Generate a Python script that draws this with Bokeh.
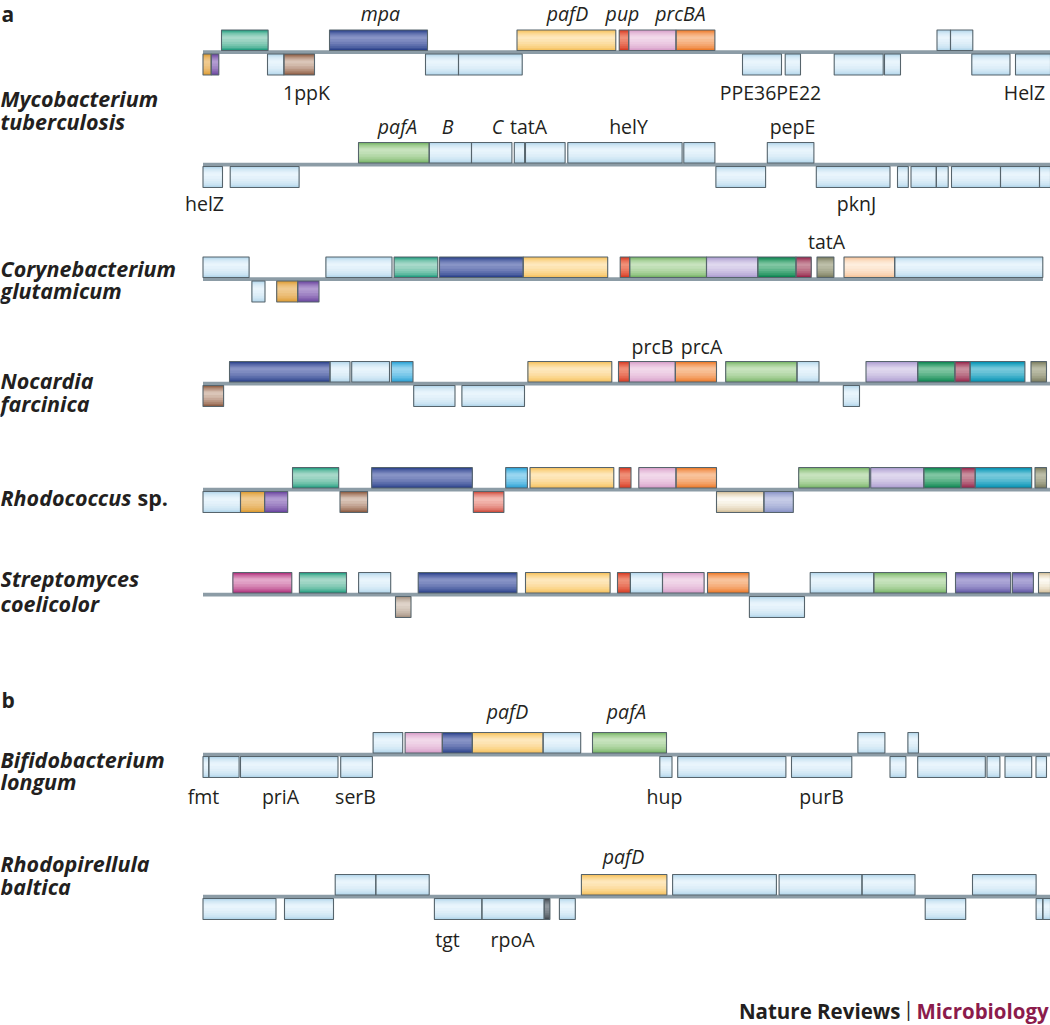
from bokeh.plotting import figure
from bokeh.models import ColumnDataSource, Range1d
from bokeh.embed import file_html
from bokeh.resources import INLINE
from bokeh.core.properties import value

# ---------------- DATA ----------------
# gene maps: start / end along the map, strand (+1 top strand, -1 bottom strand), gene family

# Mycobacterium tuberculosis, segment 1
mtb1_start = [202.5, 210.7, 221.0, 267.0, 283.4, 329.0, 425.0, 458.0, 516.5, 618.7, 628.2, 675.5,
              742.0, 784.7, 833.7, 884.0, 936.5, 950.0, 971.3, 1015.0]
mtb1_end = [210.7, 218.3, 267.6, 283.4, 314.0, 427.0, 458.0, 521.7, 615.3, 628.2, 675.5, 714.4,
            781.0, 800.0, 882.7, 900.0, 950.0, 972.3, 1009.5, 1050.0]
mtb1_strand = [-1, -1, 1, -1, -1, 1, -1, -1, 1, 1, 1, 1, -1, -1, -1, -1, 1, 1, -1, -1]
mtb1_family = ["amber", "purple", "teal", "hyp", "brown", "mpa", "hyp", "hyp", "pafD", "pup", "prcB", "prcA",
               "hyp", "hyp", "hyp", "hyp", "hyp", "hyp", "hyp", "hyp"]

# Mycobacterium tuberculosis, segment 2
mtb2_start = [202.5, 229.7, 358.0, 428.7, 471.0, 513.8, 525.0, 567.3, 683.3, 715.4, 766.8, 815.8,
              897.0, 910.5, 935.8, 951.0, 1000.0, 1039.0]
mtb2_end = [222.0, 298.6, 428.7, 471.0, 511.4, 524.1, 564.6, 681.6, 714.4, 765.1, 813.4, 889.5,
            907.8, 935.8, 947.7, 1000.0, 1039.0, 1050.0]
mtb2_strand = [-1, -1, 1, 1, 1, 1, 1, 1, 1, -1, 1, -1, -1, -1, -1, -1, -1, -1]
mtb2_family = ["hyp", "hyp", "pafA", "hyp", "hyp", "hyp", "hyp", "hyp", "hyp", "hyp", "hyp", "hyp",
               "hyp", "hyp", "hyp", "hyp", "hyp", "hyp"]

# Corynebacterium glutamicum
cglu_start = [202.5, 251.4, 276.2, 297.2, 325.4, 393.6, 439.0, 522.7, 619.7, 629.2, 706.0, 757.3,
              795.5, 816.5, 843.5, 894.2]
cglu_end = [248.6, 264.5, 297.2, 318.5, 391.5, 437.3, 522.7, 607.2, 629.2, 706.0, 757.3, 795.5,
            810.7, 833.4, 894.2, 1042.3]
cglu_strand = [1, -1, -1, -1, 1, 1, 1, 1, 1, 1, 1, 1, 1, 1, 1, 1]
cglu_family = ["hyp", "hyp", "amber", "purple", "hyp", "teal", "mpa", "pafD", "pup", "pafA", "lavender",
               "dkgreen", "maroon", "olive", "peach", "hyp"]

# Nocardia farcinica
nfar_start = [202.5, 229.0, 329.5, 351.2, 390.8, 413.2, 461.4, 527.4, 618.0, 628.9, 674.8, 725.2,
              796.5, 842.8, 865.5, 917.2, 954.4, 969.6, 1030.5]
nfar_end = [223.1, 329.5, 349.5, 389.0, 412.5, 454.5, 524.0, 611.3, 628.9, 674.8, 716.0, 796.5,
            818.5, 859.0, 917.2, 954.4, 969.6, 1024.4, 1046.0]
nfar_strand = [-1, 1, 1, 1, 1, -1, -1, 1, 1, 1, 1, 1, 1, -1, 1, 1, 1, 1, 1]
nfar_family = ["brown", "mpa", "hyp", "hyp", "cyan", "hyp", "hyp", "pafD", "pup", "prcB", "prcA", "pafA",
               "hyp", "hyp", "lavender", "dkgreen", "maroon", "tealcyan", "olive"]

# Rhodococcus sp.
rhod_start = [202.5, 240.0, 264.1, 292.0, 339.5, 371.2, 472.8, 505.2, 529.5, 618.7, 638.3, 675.5,
              716.0, 763.4, 798.2, 870.2, 923.3, 960.5, 974.7, 1034.5]
rhod_end = [240.0, 264.1, 287.2, 338.2, 367.1, 471.8, 503.4, 526.9, 613.3, 630.5, 675.5, 716.0,
            763.4, 792.8, 868.9, 923.3, 960.5, 974.7, 1031.2, 1046.0]
rhod_strand = [-1, -1, -1, 1, -1, 1, -1, 1, 1, 1, 1, 1, -1, -1, 1, 1, 1, 1, 1, 1]
rhod_family = ["hyp", "amber", "purple", "teal", "brown", "mpa", "salmon", "cyan", "pafD", "pup", "prcB",
               "prcA", "cream", "periwinkle", "pafA", "lavender", "dkgreen", "maroon", "tealcyan", "olive"]

# Streptomyces coelicolor
scoe_start = [232.4, 298.9, 358.1, 395.0, 417.7, 525.0, 617.0, 629.9, 662.0, 707.0, 748.9, 809.7,
              873.3, 955.0, 1011.9, 1038.0]
scoe_end = [291.3, 346.0, 390.2, 410.5, 516.5, 609.6, 629.9, 662.0, 703.6, 748.5, 804.0, 873.3,
            946.0, 1010.2, 1032.9, 1050.0]
scoe_strand = [1, 1, 1, -1, 1, 1, 1, 1, 1, 1, -1, 1, 1, 1, 1, 1]
scoe_family = ["magenta", "teal", "hyp", "taupe", "mpa", "pafD", "pup", "hyp", "prcB", "prcA", "hyp", "hyp",
               "pafA", "slate", "slate", "cream"]

# Bifidobacterium longum
blon_start = [202.5, 208.3, 240.0, 340.2, 372.6, 404.6, 441.8, 471.8, 542.6, 592.0, 659.3, 677.2,
              791.0, 857.4, 889.5, 907.4, 917.2, 986.5, 1004.5, 1035.5]
blon_end = [208.3, 238.6, 337.5, 371.9, 402.2, 441.8, 471.8, 542.6, 580.2, 666.0, 671.5, 785.4,
            851.3, 884.4, 905.4, 918.0, 984.8, 999.4, 1031.2, 1046.0]
blon_strand = [-1, -1, -1, -1, 1, 1, 1, 1, 1, 1, -1, -1, -1, 1, -1, 1, -1, -1, -1, -1]
blon_family = ["hyp", "hyp", "hyp", "hyp", "hyp", "prcB", "mpa", "pafD", "hyp", "pafA", "hyp", "hyp",
               "hyp", "hyp", "hyp", "hyp", "hyp", "hyp", "hyp", "hyp"]

# Rhodopirellula baltica
rbal_start = [202.5, 284.0, 334.7, 375.3, 433.9, 481.4, 543.7, 558.9, 580.9, 672.1, 778.6, 861.5,
              924.7, 972.0, 1035.6, 1042.3]
rbal_end = [275.5, 333.0, 375.3, 428.7, 481.4, 543.7, 549.4, 574.8, 666.4, 775.9, 861.5, 914.5,
            965.2, 1035.6, 1042.3, 1050.0]
rbal_strand = [-1, -1, 1, 1, -1, -1, -1, -1, 1, 1, 1, 1, -1, 1, -1, -1]
rbal_family = ["hyp", "hyp", "hyp", "hyp", "hyp", "hyp", "dkgrey", "hyp", "pafD", "hyp", "hyp", "hyp",
               "hyp", "hyp", "hyp", "hyp"]

# chromosome line extent per map
map_line_start = [202.5, 202.5, 202.5, 202.5, 202.5, 202.5, 202.5, 202.5]
map_line_end = [1050, 1050, 1042.5, 1050, 1050, 1050, 1050, 1050]

# gene name labels: text, x, map index, side, italic
label_text = ["mpa", "pafD", "pup", "prcBA", "1ppK", "PPE36PE22", "HelZ",
              "pafA", "B", "C", "tatA", "helY", "pepE", "helZ", "pknJ",
              "tatA", "prcB", "prcA",
              "pafD", "pafA", "fmt", "priA", "serB", "hup", "purB",
              "pafD", "tgt", "rpoA"]
label_x = [380, 567, 622, 680, 306, 770, 1024,
           397, 447, 497, 528, 628, 792, 204, 856,
           826, 652, 701,
           507, 626, 203, 280, 355, 664, 821,
           623, 447, 512]
label_map = [0, 0, 0, 0, 0, 0, 0,
             1, 1, 1, 1, 1, 1, 1, 1,
             2, 3, 3,
             6, 6, 6, 6, 6, 6, 6,
             7, 7, 7]
label_side = [1, 1, 1, 1, -1, -1, -1,
              1, 1, 1, 1, 1, 1, -1, -1,
              1, 1, 1,
              1, 1, -1, -1, -1, -1, -1,
              1, -1, -1]
label_italic = [1, 1, 1, 1, 0, 0, 0,
                1, 1, 1, 0, 0, 0, 0, 0,
                0, 0, 0,
                1, 1, 0, 0, 0, 0, 0,
                1, 0, 0]

# species names (two lines each)
species_line1 = ["Mycobacterium", "Corynebacterium", "Nocardia", "Rhodococcus", "Streptomyces",
                 "Bifidobacterium", "Rhodopirellula"]
species_line2 = ["tuberculosis", "glutamicum", "farcinica", "", "coelicolor", "longum", "baltica"]

maps = [
    (mtb1_start, mtb1_end, mtb1_strand, mtb1_family),
    (mtb2_start, mtb2_end, mtb2_strand, mtb2_family),
    (cglu_start, cglu_end, cglu_strand, cglu_family),
    (nfar_start, nfar_end, nfar_strand, nfar_family),
    (rhod_start, rhod_end, rhod_strand, rhod_family),
    (scoe_start, scoe_end, scoe_strand, scoe_family),
    (blon_start, blon_end, blon_strand, blon_family),
    (rbal_start, rbal_end, rbal_strand, rbal_family),
]

# ---------------- LAYOUT / STYLE ----------------
map_y = [51.5, 164.0, 278.5, 383.0, 489.0, 594.0, 754.0, 896.0]
label_baseline = {(0, 1): 13, (0, -1): 92, (1, 1): 125.5, (1, -1): 203, (2, 1): 241,
                  (3, 1): 346, (6, 1): 711, (6, -1): 796, (7, 1): 855.5, (7, -1): 939}
species_baselines = [(97.5, 120.5), (268, 290), (379.5, 403), (496.5, None), (577.5, 602.5),
                     (759, 781), (862.5, 885.5)]

palette = {
    "hyp": ("#b2d5ea", "#d2e8f5", "#e9f5fc"),
    "teal": ("#1e9a7d", "#6cc0a8", "#a8d9ca"),
    "mpa": ("#283f88", "#5769a8", "#8894c6"),
    "pafD": ("#f4bf5c", "#fbd58a", "#fee8bd"),
    "pup": ("#d33a22", "#e4624a", "#ef9078"),
    "prcB": ("#d69cc7", "#e5bcda", "#f2d9ea"),
    "prcA": ("#ec7826", "#f39e62", "#f8c39c"),
    "pafA": ("#74b264", "#a2ce94", "#c8e3be"),
    "amber": ("#dc9a30", "#e8b463", "#f0ca90"),
    "purple": ("#67449e", "#8c6cb6", "#b29cd1"),
    "brown": ("#8a5a40", "#b28c77", "#dac5b8"),
    "lavender": ("#aa9acf", "#c4b8de", "#dfd8ee"),
    "dkgreen": ("#0a824e", "#3da373", "#80c6a3"),
    "maroon": ("#942248", "#ae5872", "#ca909f"),
    "olive": ("#797b5d", "#9b9d82", "#bdbfa9"),
    "peach": ("#f6c398", "#fbdabd", "#feeede"),
    "cyan": ("#289dd1", "#5ebce4", "#9ad6f0"),
    "tealcyan": ("#008eae", "#33aac6", "#78c9db"),
    "salmon": ("#cd4a3a", "#e2847a", "#f3bab2"),
    "cream": ("#d0bd98", "#eadec6", "#fcf9f2"),
    "periwinkle": ("#8892c5", "#a5add6", "#c5cbe6"),
    "magenta": ("#ac2d79", "#ca6ca2", "#e4a9cb"),
    "taupe": ("#a49080", "#c3b3a5", "#dfd3c9"),
    "slate": ("#59509e", "#8880c0", "#aea8d7"),
    "dkgrey": ("#434950", "#676f76", "#8f979d"),
}


def mix(c1, c2, t):
    a = [int(c1[i:i + 2], 16) for i in (1, 3, 5)]
    b = [int(c2[i:i + 2], 16) for i in (1, 3, 5)]
    return "#%02x%02x%02x" % tuple(int(round(x + (y - x) * t)) for x, y in zip(a, b))


# gradient bands: (inset from top, inset from bottom, position between edge->mid->light)
bands = [(0.0, 0.0, 0.0), (1.0, 1.2, 0.45), (2.0, 2.6, 0.8), (3.0, 4.2, 1.15),
         (4.2, 6.2, 1.5), (5.5, 8.8, 1.8), (6.8, 11.5, 2.0)]

FONT = "Open Sans"
W, H = 1050, 1025

p = figure(width=W, height=H, output_backend="svg", toolbar_location=None,
           x_range=Range1d(0, 1050), y_range=Range1d(1025, 0),
           min_border=0, min_border_left=0, min_border_right=0,
           min_border_top=0, min_border_bottom=0)
p.xaxis.visible = False
p.yaxis.visible = False
p.grid.visible = False
p.outline_line_color = None
p.background_fill_color = "white"
p.border_fill_color = "white"

# chromosome lines
p.quad(left=map_line_start, right=map_line_end,
       top=[y - 1.7 for y in map_y], bottom=[y + 2.1 for y in map_y],
       fill_color="#8c9ca6", line_color=None)

# genes
L, R, Y0, Y1, FAM = [], [], [], [], []
for i, (st, en, sd, fam) in enumerate(maps):
    Y = map_y[i]
    for a, b, s, f in zip(st, en, sd, fam):
        if s > 0:
            y0, y1 = Y - 22.0, Y - 1.5
        else:
            y0, y1 = Y + 2.0, Y + 23.0
        L.append(a); R.append(b); Y0.append(y0); Y1.append(y1); FAM.append(f)

for dt, db, t in bands:
    cols = []
    for f in FAM:
        e, m, li = palette[f]
        if t <= 1.0:
            cols.append(mix(e, m, t))
        else:
            cols.append(mix(m, li, t - 1.0))
    src = ColumnDataSource(dict(l=L, r=R, top=[v + dt for v in Y0], bot=[v - db for v in Y1], c=cols))
    p.quad(left="l", right="r", top="top", bottom="bot", fill_color="c", line_color=None, source=src)

p.quad(left=L, right=R, top=Y0, bottom=Y1, fill_color=None, line_color="#56646c", line_width=1.1)

# gene labels
for ital in (0, 1):
    xs, ys, ts = [], [], []
    for t, x, m, s, it in zip(label_text, label_x, label_map, label_side, label_italic):
        if it == ital:
            xs.append(x); ys.append(label_baseline[(m, s)]); ts.append(t)
    p.text(x=xs, y=ys, text=ts, text_font=value(FONT), text_font_size=value("19.5px"),
           text_align="center", text_baseline="alphabetic", text_color="#231f20",
           text_font_style="italic" if ital else "normal")

# species names
sx, sy, st_ = [], [], []
for n1, n2, (b1, b2) in zip(species_line1, species_line2, species_baselines):
    sx.append(0); sy.append(b1); st_.append(n1)
    if n2:
        sx.append(0); sy.append(b2); st_.append(n2)
p.text(x=sx, y=sy, text=st_, text_font=value(FONT), text_font_size=value("21.5px"),
       text_font_style="bold italic", text_align="left", text_baseline="alphabetic",
       text_color="#231f20")
p.text(x=[137], y=[496.5], text=["sp."], text_font=value(FONT), text_font_size=value("21.5px"),
       text_font_style="bold", text_align="left", text_baseline="alphabetic", text_color="#231f20")

# panel letters
p.text(x=[1, 1], y=[13.5, 699], text=["a", "b"], text_font=value(FONT), text_font_size=value("21px"),
       text_font_style="bold", text_align="left", text_baseline="alphabetic", text_color="#231f20")

# footer
p.text(x=[900], y=[1010], text=["Nature Reviews"], text_font=value(FONT), text_font_size=value("20.5px"),
       text_font_style="bold", text_align="right", text_baseline="alphabetic", text_color="#231f20")
p.text(x=[908], y=[1008], text=["|"], text_font=value(FONT), text_font_size=value("20px"),
       text_align="center", text_baseline="alphabetic", text_color="#231f20")
p.text(x=[916], y=[1010], text=["Microbiology"], text_font=value(FONT), text_font_size=value("20.5px"),
       text_font_style="bold", text_align="left", text_baseline="alphabetic", text_color="#8b1c4c")

open("out.html", "w").write(file_html(p, INLINE))
